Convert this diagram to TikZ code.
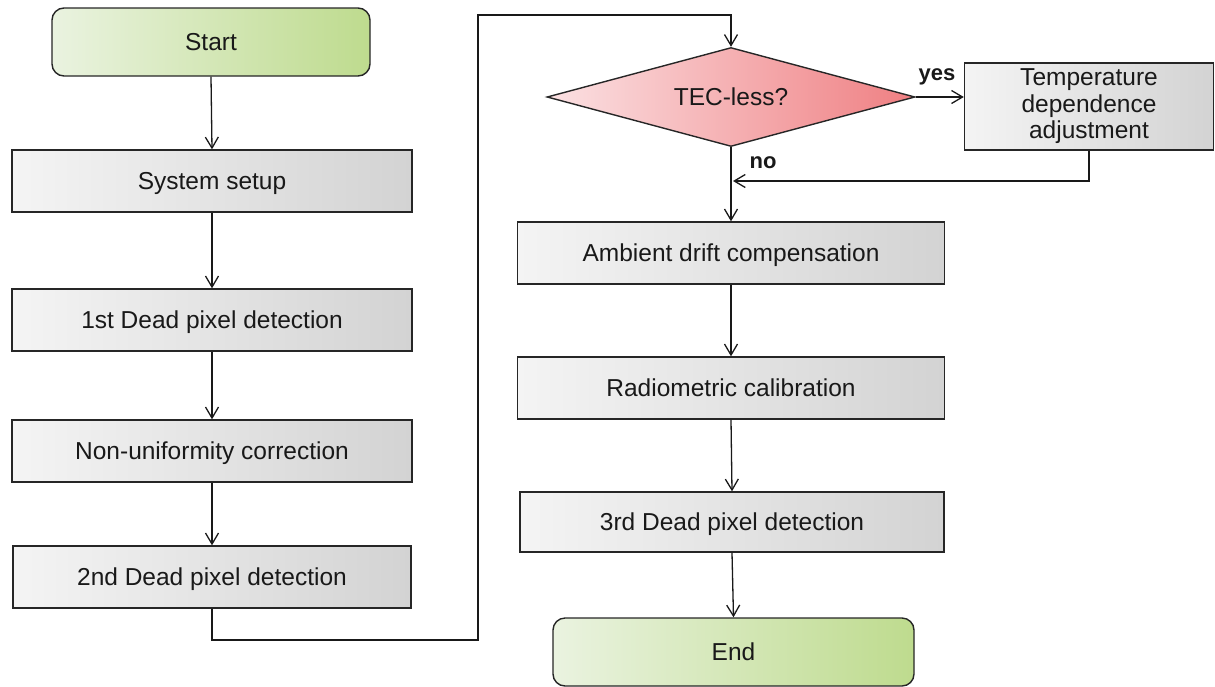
\documentclass[tikz,border=0pt]{standalone}
\usepackage{fontspec}
\setmainfont{Liberation Sans}
\usetikzlibrary{shapes.geometric,arrows.meta}
\definecolor{gL}{HTML}{F4F4F4}
\definecolor{gR}{HTML}{D3D3D3}
\definecolor{vL}{HTML}{EAF3E0}
\definecolor{vR}{HTML}{BEDB8E}
\definecolor{pL}{HTML}{FBE1E3}
\definecolor{pR}{HTML}{EF7F82}
\tikzset{
  every node/.style={font=\fontsize{24.5}{27}\selectfont, text=black!90},
  oneline/.style={text height=17.5pt, text depth=0pt},
  grayfill/.style={draw=black!85, line width=1.4pt, left color=gL, right color=gR, inner sep=0pt},
  procbox/.style={grayfill, oneline},
  termbox/.style={draw=black!85, line width=1.4pt, left color=vL, right color=vR, rounded corners=12pt, inner sep=0pt, oneline},
  decbox/.style={draw=black!85, line width=1.4pt, left color=pL, right color=pR, diamond, aspect=3.7, inner sep=0pt, oneline},
  conn/.style={draw=black!90, line width=1.3pt, -{Straight Barb[length=11pt,width=13pt,line width=1.3pt]}},
  lbl/.style={font=\fontsize{22}{26}\selectfont\bfseries}
}
\begin{document}
\begin{tikzpicture}[x=1pt,y=-1pt]
\useasboundingbox (0,0) rectangle (1215,686);
% left column
\node[termbox, minimum width=318pt, minimum height=68pt] (start) at (211,42) {Start};
\node[procbox, minimum width=400pt, minimum height=62pt] (setup) at (212,181) {System setup};
\node[procbox, minimum width=400pt, minimum height=62pt] (dp1) at (212,320) {1st Dead pixel detection};
\node[procbox, minimum width=400pt, minimum height=62pt] (nuc) at (212,451) {Non-uniformity correction};
\node[procbox, minimum width=398pt, minimum height=62pt] (dp2) at (212,577) {2nd Dead pixel detection};
% right column
\node[decbox, minimum width=368pt, minimum height=99pt] (tec) at (731,97) {TEC-less?};
\node[grayfill, minimum width=249pt, minimum height=87pt, align=center, font=\fontsize{24.5}{26.5}\selectfont] (temp) at (1089,106.5) {Temperature\\dependence\\adjustment};
\node[procbox, minimum width=427pt, minimum height=62pt] (amb) at (731,253) {Ambient drift compensation};
\node[procbox, minimum width=427pt, minimum height=62pt] (rad) at (731,388) {Radiometric calibration};
\node[procbox, minimum width=424pt, minimum height=60pt] (dp3) at (732,522) {3rd Dead pixel detection};
\node[termbox, minimum width=361pt, minimum height=68pt] (end) at (733.5,652) {End};
% helper coordinates
\coordinate (c1) at (478,640);
\coordinate (c2) at (478,15);
\coordinate (join) at (733,181);
% connectors
\draw[conn] (start.south) -- (setup.north);
\draw[conn] (setup.south) -- (dp1.north);
\draw[conn] (dp1.south) -- (nuc.north);
\draw[conn] (nuc.south) -- (dp2.north);
\draw[conn] (dp2.south) |- (c1) -- (c2) -| (tec.north);
\draw[conn] (tec.east) -- (tec.east -| temp.west);
\draw[conn] (temp.south) |- (join);
\draw[conn] (tec.south) -- (amb.north);
\draw[conn] (amb.south) -- (rad.north);
\draw[conn] (rad.south) -- (dp3.north);
\draw[conn] (dp3.south) -- (end.north);
% labels
\node[lbl] (yes) at (937,77) {yes};
\node[lbl] (no) at (763,163) {no};
\end{tikzpicture}
\end{document}
